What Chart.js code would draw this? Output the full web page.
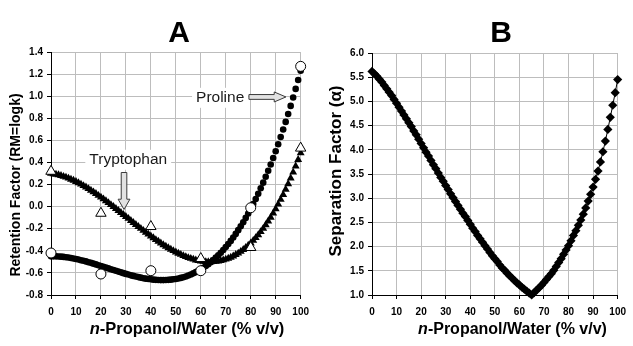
<!DOCTYPE html>
<html>
<head>
<meta charset="utf-8">
<script src="https://cdn.jsdelivr.net/npm/chart.js@4.4.0/dist/chart.umd.min.js"></script>
<style>
  html, body { margin: 0; padding: 0; background: #fff; }
  #wrap { position: relative; width: 633px; height: 346px; overflow: hidden; }
  canvas { position: absolute; top: 0; }
  #chartA { left: 0; }
  #chartB { left: 316px; }
</style>
</head>
<body>
<div id="wrap">
  <canvas id="chartA" width="316" height="346"></canvas>
  <canvas id="chartB" width="317" height="346"></canvas>
</div>
<script>
'use strict';

// measured points (open markers)
const percentExp = [0, 20, 40, 60, 80, 100];
const prolineExp = [-0.42, -0.61, -0.58, -0.58, -0.01, 1.27];
const tryptophanExp = [0.32, -0.06, -0.18, -0.47, -0.37, 0.53];

// fitted curves, one point per % step
const percentFit = [
  0, 1, 2, 3, 4, 5, 6, 7, 8, 9, 10, 11, 12, 13, 14, 15, 16, 17, 18, 19,
  20, 21, 22, 23, 24, 25, 26, 27, 28, 29, 30, 31, 32, 33, 34, 35, 36, 37, 38, 39,
  40, 41, 42, 43, 44, 45, 46, 47, 48, 49, 50, 51, 52, 53, 54, 55, 56, 57, 58, 59,
  60, 61, 62, 63, 64, 65, 66, 67, 68, 69, 70, 71, 72, 73, 74, 75, 76, 77, 78, 79,
  80, 81, 82, 83, 84, 85, 86, 87, 88, 89, 90, 91, 92, 93, 94, 95, 96, 97, 98, 99, 100
];
const prolineFit = [
  -0.450, -0.450, -0.450, -0.451, -0.453, -0.455, -0.458, -0.461, -0.465, -0.469,
  -0.474, -0.479, -0.485, -0.490, -0.496, -0.503, -0.509, -0.516, -0.523, -0.530,
  -0.537, -0.545, -0.552, -0.559, -0.567, -0.574, -0.581, -0.588, -0.595, -0.602,
  -0.609, -0.615, -0.622, -0.627, -0.633, -0.638, -0.643, -0.648, -0.652, -0.655,
  -0.658, -0.661, -0.663, -0.664, -0.665, -0.665, -0.664, -0.663, -0.661, -0.658,
  -0.655, -0.650, -0.645, -0.639, -0.632, -0.624, -0.614, -0.604, -0.593, -0.581,
  -0.568, -0.553, -0.537, -0.521, -0.503, -0.483, -0.462, -0.441, -0.417, -0.393,
  -0.366, -0.339, -0.310, -0.279, -0.247, -0.213, -0.178, -0.141, -0.102, -0.062,
  -0.020, 0.024, 0.069, 0.117, 0.166, 0.217, 0.270, 0.325, 0.382, 0.441,
  0.502, 0.565, 0.630, 0.698, 0.767, 0.839, 0.912, 0.988, 1.066, 1.147,
  1.230
];
const tryptophanFit = [
  0.300, 0.297, 0.292, 0.287, 0.281, 0.273, 0.266, 0.257, 0.247, 0.237,
  0.226, 0.215, 0.202, 0.189, 0.176, 0.162, 0.147, 0.132, 0.117, 0.101,
  0.085, 0.069, 0.052, 0.035, 0.017, 0.000, -0.018, -0.036, -0.054, -0.072,
  -0.090, -0.108, -0.127, -0.145, -0.163, -0.181, -0.198, -0.216, -0.233, -0.250,
  -0.267, -0.283, -0.300, -0.315, -0.331, -0.346, -0.360, -0.374, -0.387, -0.400,
  -0.412, -0.424, -0.434, -0.445, -0.454, -0.463, -0.470, -0.477, -0.484, -0.489,
  -0.493, -0.496, -0.499, -0.500, -0.500, -0.499, -0.497, -0.494, -0.489, -0.483,
  -0.477, -0.468, -0.459, -0.448, -0.435, -0.422, -0.406, -0.390, -0.371, -0.351,
  -0.330, -0.307, -0.282, -0.256, -0.228, -0.198, -0.166, -0.132, -0.097, -0.060,
  -0.020, 0.021, 0.064, 0.109, 0.156, 0.206, 0.258, 0.311, 0.367, 0.425,
  0.485
];
const separationFit = [
  5.62, 5.57, 5.52, 5.46, 5.40, 5.33, 5.26, 5.19, 5.12, 5.04,
  4.96, 4.88, 4.80, 4.72, 4.64, 4.56, 4.48, 4.39, 4.31, 4.22,
  4.13, 4.04, 3.95, 3.87, 3.78, 3.69, 3.61, 3.52, 3.43, 3.35,
  3.26, 3.18, 3.09, 3.01, 2.93, 2.85, 2.77, 2.69, 2.62, 2.54,
  2.46, 2.38, 2.31, 2.23, 2.16, 2.09, 2.02, 1.95, 1.88, 1.81,
  1.75, 1.69, 1.62, 1.56, 1.51, 1.45, 1.40, 1.35, 1.30, 1.25,
  1.21, 1.16, 1.12, 1.08, 1.04, 1.00, 1.05, 1.10, 1.15, 1.20,
  1.26, 1.32, 1.38, 1.44, 1.51, 1.59, 1.67, 1.75, 1.84, 1.93,
  2.02, 2.12, 2.23, 2.33, 2.44, 2.55, 2.67, 2.80, 2.94, 3.08,
  3.23, 3.39, 3.56, 3.75, 3.96, 4.18, 4.42, 4.67, 4.92, 5.18,
  5.45
];

const xTitleRest = '-Propanol/Water (% v/v)';
const fontFamily = "'Liberation Sans', Arial, Helvetica, sans-serif";
const gridGray = '#bdbdbd';

function points(xs, ys) {
  return xs.map((x, i) => ({ x: x, y: ys[i] }));
}

function axisX(axisHeight) {
  return {
    type: 'linear', min: 0, max: 100,
    ticks: {
      stepSize: 10, color: '#000', padding: 7, maxRotation: 0, autoSkip: false,
      font: { family: fontFamily, size: 10, weight: 'bold' }
    },
    grid: { color: gridGray, tickColor: '#000', tickLength: 4 },
    border: { color: '#000' },
    afterFit: function (scale) { scale.height = axisHeight; }
  };
}

function axisY(min, max, step, axisWidth) {
  return {
    type: 'linear', min: min, max: max,
    ticks: {
      stepSize: step, color: '#000', padding: 4,
      font: { family: fontFamily, size: 10, weight: 'bold' },
      callback: v => (Math.abs(v) < 1e-9 ? 0 : v).toFixed(1)
    },
    grid: { color: gridGray, tickColor: '#000', tickLength: 4 },
    border: { color: '#000' },
    afterFit: function (scale) { scale.width = axisWidth; }
  };
}

// panel letter and axis titles
function panelText(p) {
  return {
    id: 'panelText',
    afterDraw(chart) {
      const ctx = chart.ctx;
      ctx.save();
      ctx.fillStyle = '#000';
      ctx.textAlign = 'center';
      ctx.textBaseline = 'alphabetic';
      ctx.font = 'bold 30px ' + fontFamily;
      ctx.fillText(p.letter, p.letterX, 42);

      ctx.save();
      ctx.translate(p.yTitleX, p.yTitleY);
      ctx.rotate(-Math.PI / 2);
      ctx.font = 'bold ' + p.yTitleSize + 'px ' + fontFamily;
      ctx.textBaseline = 'middle';
      ctx.fillText(p.yTitle, 0, 0);
      ctx.restore();

      const italic = 'italic bold ' + p.xTitleSize + 'px ' + fontFamily;
      const bold = 'bold ' + p.xTitleSize + 'px ' + fontFamily;
      ctx.font = italic;
      const w1 = ctx.measureText('n').width;
      ctx.font = bold;
      const w2 = ctx.measureText(xTitleRest).width;
      const left = p.xTitleX - (w1 + w2) / 2;
      ctx.textAlign = 'left';
      ctx.font = italic;
      ctx.fillText('n', left, 334);
      ctx.font = bold;
      ctx.fillText(xTitleRest, left + w1, 334);
      ctx.restore();
    }
  };
}

// labels and block arrows of panel A, placed in data units
const callouts = [
  { text: 'Proline', x: 58.1, y: 0.949 },
  { text: 'Tryptophan', x: 15.35, y: 0.388 }
];
const arrows = [
  { angle: 0, x: 94.1, y: 0.993, length: 37, head: 11.7, body: 2.4, wing: 5 },
  { angle: Math.PI / 2, x: 29.25, y: -0.026, length: 37, head: 10.3, body: 2.8, wing: 5.9 }
];

const calloutPlugin = {
  id: 'callouts',
  afterDraw(chart) {
    const ctx = chart.ctx;
    const sx = chart.scales.x;
    const sy = chart.scales.y;
    ctx.save();
    ctx.font = '15.5px ' + fontFamily;
    ctx.textAlign = 'left';
    ctx.textBaseline = 'alphabetic';
    callouts.forEach(c => {
      const px = sx.getPixelForValue(c.x);
      const py = sy.getPixelForValue(c.y);
      const w = ctx.measureText(c.text).width;
      ctx.fillStyle = '#fff';
      ctx.fillRect(px - 4, py - 14, w + 8, 20);
      ctx.fillStyle = '#1a1a1a';
      ctx.fillText(c.text, px, py);
    });
    arrows.forEach(a => {
      ctx.save();
      ctx.translate(sx.getPixelForValue(a.x), sy.getPixelForValue(a.y));
      ctx.rotate(a.angle);
      ctx.beginPath();
      ctx.moveTo(0, 0);
      ctx.lineTo(-a.head, -a.wing);
      ctx.lineTo(-a.head, -a.body);
      ctx.lineTo(-a.length, -a.body);
      ctx.lineTo(-a.length, a.body);
      ctx.lineTo(-a.head, a.body);
      ctx.lineTo(-a.head, a.wing);
      ctx.closePath();
      ctx.fillStyle = '#e2e2e2';
      ctx.fill();
      ctx.strokeStyle = '#3a3a3a';
      ctx.lineWidth = 1;
      ctx.stroke();
      ctx.restore();
    });
    ctx.restore();
  }
};

let chartA = new Chart(document.getElementById('chartA'), {
  type: 'scatter',
  data: {
    datasets: [
      {
        label: 'Tryptophan',
        data: points(percentExp, tryptophanExp),
        pointStyle: 'triangle', pointRadius: 6,
        pointBackgroundColor: '#fff', pointBorderColor: '#000', pointBorderWidth: 1,
        clip: false
      },
      {
        label: 'Proline',
        data: points(percentExp, prolineExp),
        pointStyle: 'circle', pointRadius: 5,
        pointBackgroundColor: '#fff', pointBorderColor: '#000', pointBorderWidth: 1,
        clip: false
      },
      {
        label: 'Proline fit',
        data: points(percentFit, prolineFit),
        pointStyle: 'circle', pointRadius: 3.3,
        pointBackgroundColor: '#000', pointBorderWidth: 0,
        clip: false
      },
      {
        label: 'Tryptophan fit',
        data: points(percentFit, tryptophanFit),
        pointStyle: 'triangle', pointRadius: 4.6,
        pointBackgroundColor: '#000', pointBorderWidth: 0,
        clip: false
      }
    ]
  },
  options: {
    responsive: false,
    devicePixelRatio: 1,
    animation: false,
    events: [],
    layout: { padding: { top: 52, right: 11, bottom: 0, left: 0 } },
    plugins: { legend: { display: false }, tooltip: { enabled: false } },
    scales: { x: axisX(51), y: axisY(-0.8, 1.4, 0.2, 51) }
  },
  plugins: [
    calloutPlugin,
    panelText({
      letter: 'A', letterX: 179,
      yTitle: 'Retention Factor (RM=logk)', yTitleX: 16, yTitleY: 185, yTitleSize: 14,
      xTitleX: 187, xTitleSize: 16.5
    })
  ]
});

let chartB = new Chart(document.getElementById('chartB'), {
  type: 'scatter',
  data: {
    datasets: [
      {
        label: 'Separation factor',
        data: points(percentFit, separationFit),
        showLine: true, borderColor: '#000', borderWidth: 1,
        pointStyle: 'rectRot', pointRadius: 4.6,
        pointBackgroundColor: '#000', pointBorderWidth: 0,
        clip: false
      }
    ]
  },
  options: {
    responsive: false,
    devicePixelRatio: 1,
    animation: false,
    events: [],
    layout: { padding: { top: 53, right: 9, bottom: 0, left: 0 } },
    plugins: { legend: { display: false }, tooltip: { enabled: false } },
    scales: { x: axisX(51), y: axisY(1, 6, 0.5, 56) }
  },
  plugins: [
    panelText({
      letter: 'B', letterX: 185,
      yTitle: 'Separation Factor (\u03b1)', yTitleX: 20.7, yTitleY: 171, yTitleSize: 17,
      xTitleX: 196.5, xTitleSize: 16
    })
  ]
});
</script>
</body>
</html>
